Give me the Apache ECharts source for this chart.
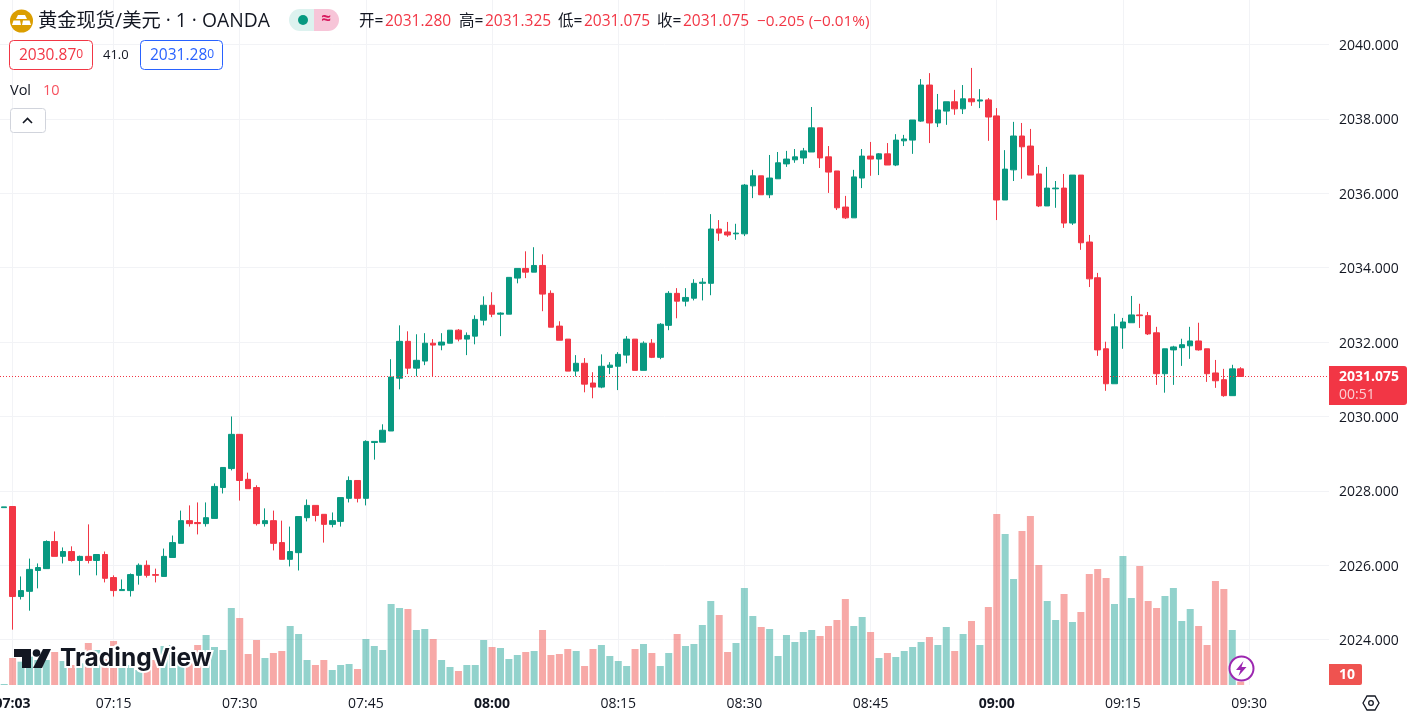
<!DOCTYPE html>
<html>
<head>
<meta charset="utf-8">
<title>黄金现货/美元</title>
<script src="https://cdn.jsdelivr.net/npm/echarts@6/dist/echarts.min.js"></script>
<style>
  html, body { margin: 0; padding: 0; background: #fff; }
  #chart { width: 1407px; height: 717px; }
</style>
</head>
<body>
<div id="chart"></div>
<script>
// one row per 10 minutes, first value is 07:02
var opens = [
  2027.55,2027.58,2025.16,2025.30,2025.86,2025.91,2026.64,2026.24,2026.37,2026.13,
  2026.24,2026.13,2026.29,2025.67,2025.32,2025.32,2025.73,2026.00,2025.75,2025.70,
  2026.21,2026.59,2027.20,2027.15,2027.12,2027.26,2028.09,2028.60,2029.52,2028.31,
  2028.09,2027.12,2027.20,2026.61,2026.16,2026.34,2027.28,2027.61,2027.37,2027.10,
  2027.18,2027.80,2028.28,2027.80,2029.30,2029.31,2029.61,2031.03,2032.02,2031.30,
  2031.49,2031.97,2031.92,2031.97,2032.32,2032.08,2032.16,2032.59,2032.99,2032.75,
  2032.75,2033.72,2033.98,2033.88,2034.06,2033.31,2032.43,2032.08,2031.22,2031.43,
  2030.90,2030.79,2031.32,2031.35,2031.65,2032.08,2031.24,2031.97,2031.59,2032.45,
  2033.31,2033.10,2033.18,2033.58,2033.58,2035.04,2034.96,2034.91,2034.91,2036.20,
  2036.47,2035.96,2036.39,2036.79,2036.90,2036.95,2037.11,2037.76,2036.98,2036.60,
  2035.63,2035.34,2036.41,2037.00,2036.92,2037.06,2036.76,2037.41,2037.43,2037.94,
  2038.91,2037.89,2038.21,2038.46,2038.27,2038.54,2038.48,2038.51,2038.08,2035.82,
  2036.63,2037.54,2037.27,2036.52,2035.66,2036.12,2036.14,2035.20,2036.49,2034.69,
  2033.73,2031.82,2030.88,2032.38,2032.52,2032.73,2032.71,2032.25,2031.15,2031.79,
  2031.85,2031.90,2032.03,2031.82,2031.17,2030.99,2030.56,2031.28
];
var closes = [
  2027.57,2025.16,2025.32,2025.89,2025.94,2026.64,2026.24,2026.37,2026.13,2026.24,
  2026.13,2026.29,2025.65,2025.32,2025.35,2025.75,2026.00,2025.73,2025.73,2026.24,
  2026.61,2027.20,2027.12,2027.12,2027.28,2028.12,2028.63,2029.52,2028.28,2028.06,
  2027.12,2027.20,2026.59,2026.16,2026.37,2027.31,2027.61,2027.34,2027.10,2027.20,
  2027.82,2028.28,2027.80,2029.33,2029.33,2029.63,2031.06,2032.02,2031.30,2031.51,
  2031.97,2031.92,2032.00,2032.32,2032.08,2032.18,2032.61,2032.99,2032.75,2032.78,
  2033.74,2033.98,2033.88,2034.06,2033.29,2032.40,2032.05,2031.22,2031.43,2030.87,
  2030.79,2031.35,2031.38,2031.67,2032.08,2031.24,2031.97,2031.59,2032.48,2033.31,
  2033.10,2033.20,2033.58,2033.61,2035.04,2034.93,2034.88,2034.93,2036.22,2036.47,
  2035.96,2036.41,2036.82,2036.92,2036.98,2037.14,2037.76,2036.95,2036.57,2035.61,
  2035.34,2036.44,2037.00,2036.92,2037.06,2036.76,2037.43,2037.46,2037.97,2038.91,
  2037.89,2038.24,2038.46,2038.27,2038.54,2038.46,2038.51,2038.05,2035.82,2036.65,
  2037.54,2037.25,2036.49,2035.66,2036.14,2036.14,2035.20,2036.49,2034.67,2033.70,
  2031.79,2030.88,2032.41,2032.54,2032.73,2032.71,2032.22,2031.15,2031.82,2031.87,
  2031.93,2032.03,2031.79,2031.15,2030.96,2030.56,2031.28,2031.075
];
var lows = [
  2027.55,2024.27,2025.08,2024.78,2025.38,2025.91,2026.24,2026.05,2026.10,2025.73,
  2026.05,2025.73,2025.54,2025.16,2025.32,2025.16,2025.48,2025.67,2025.54,2025.70,
  2026.21,2026.59,2027.04,2026.83,2027.04,2027.26,2027.93,2028.55,2027.74,2028.06,
  2027.07,2027.04,2026.40,2026.16,2025.97,2025.86,2027.18,2027.18,2026.61,2027.02,
  2027.04,2027.69,2027.69,2027.61,2028.84,2029.31,2029.61,2030.73,2031.14,2031.08,
  2031.38,2031.08,2031.78,2031.97,2032.02,2031.65,2031.94,2032.45,2032.67,2032.16,
  2032.75,2033.58,2033.72,2033.88,2032.83,2032.40,2032.05,2031.22,2031.08,2030.65,
  2030.49,2030.76,2031.14,2030.71,2031.43,2031.24,2031.24,2031.57,2031.54,2032.32,
  2032.64,2032.96,2033.12,2033.12,2033.26,2034.72,2034.83,2034.75,2034.85,2035.87,
  2035.96,2035.87,2036.39,2036.71,2036.82,2036.79,2037.11,2036.68,2036.01,2035.55,
  2035.31,2035.34,2036.14,2036.47,2036.49,2036.76,2036.73,2037.27,2037.06,2037.92,
  2037.35,2037.78,2037.84,2038.11,2038.13,2038.35,2038.29,2037.41,2035.28,2035.82,
  2036.33,2036.39,2036.49,2035.63,2035.66,2035.61,2035.07,2035.15,2034.48,2033.48,
  2031.63,2030.69,2030.88,2031.82,2032.52,2032.38,2032.19,2030.85,2030.64,2030.85,
  2031.36,2031.55,2031.77,2030.93,2030.77,2030.53,2030.56,2031.075
];
var highs = [
  2027.57,2027.58,2025.70,2026.18,2026.05,2026.67,2026.91,2026.48,2026.51,2026.26,
  2027.10,2026.29,2026.37,2025.73,2025.62,2025.78,2026.05,2026.13,2025.91,2026.45,
  2026.80,2027.47,2027.61,2027.69,2027.69,2028.20,2028.63,2030.00,2029.52,2028.49,
  2028.15,2027.53,2027.47,2027.20,2027.04,2027.31,2027.77,2027.61,2027.37,2027.42,
  2027.82,2028.39,2028.28,2029.36,2029.33,2029.79,2031.54,2032.45,2032.29,2032.21,
  2032.24,2032.08,2032.24,2032.32,2032.35,2032.26,2032.72,2033.23,2033.34,2032.80,
  2033.74,2033.98,2034.44,2034.55,2034.36,2033.39,2032.56,2032.08,2031.65,2031.57,
  2031.19,2031.67,2031.46,2031.73,2032.16,2032.08,2032.02,2032.08,2032.51,2033.37,
  2033.45,2033.45,2033.69,2033.72,2035.44,2035.28,2035.23,2035.18,2036.25,2036.63,
  2036.47,2037.03,2037.11,2037.14,2037.19,2037.22,2038.32,2037.76,2037.27,2036.60,
  2035.93,2036.63,2037.19,2037.38,2037.08,2037.35,2037.59,2037.57,2037.97,2039.07,
  2039.23,2038.67,2038.46,2038.78,2038.91,2039.37,2038.80,2038.56,2038.29,2037.16,
  2037.92,2037.89,2037.73,2036.76,2036.71,2036.33,2036.52,2036.49,2036.49,2034.88,
  2033.86,2032.01,2032.76,2032.65,2033.24,2033.03,2032.81,2032.41,2031.82,2031.90,
  2032.09,2032.41,2032.52,2031.82,2031.52,2031.28,2031.39,2031.325
];
var volumes = [
  3,81,70,85,75,75,99,72,60,65,
  126,105,78,132,55,60,45,60,75,117,
  120,75,75,120,150,114,105,231,201,93,
  135,81,96,102,177,153,75,60,75,45,
  60,63,48,138,117,105,243,231,228,165,
  168,138,75,54,42,60,60,135,114,111,
  78,90,99,102,165,90,93,108,102,57,
  108,120,87,72,57,108,123,96,57,96,
  153,117,123,180,252,210,99,126,291,207,
  174,168,87,150,129,159,165,147,177,195,
  258,177,204,159,81,96,84,102,114,129,
  144,120,174,102,153,192,120,234,513,453,
  318,462,507,360,252,195,273,189,219,333,
  348,321,243,387,261,357,252,231,267,291,
  192,228,177,120,312,288,165,10
];
var priceTicks = [2040, 2038, 2036, 2034, 2032, 2030, 2028, 2026, 2024];
var timeTicks = ['07:03','07:15','07:30','07:45','08:00','08:15','08:30','08:45','09:00','09:15','09:30'];
var boldTimes = ['07:03','08:00','09:00'];
var lastPrice = 2031.075;

// the minutes run on past the last bar to leave the empty space on the right
var categories = [];
for (var m = 7 * 60 + 2; m < 7 * 60 + 2 + 158; m++) {
  var hh = Math.floor(m / 60), mm = m % 60;
  categories.push((hh < 10 ? '0' : '') + hh + ':' + (mm < 10 ? '0' : '') + mm);
}

var UP = '#089981', DOWN = '#F23645', TEXT = '#131722', GRID = '#f2f3f6';
var FONT = '"Open Sans","Noto Sans CJK SC",sans-serif';

var candleData = opens.map(function (o, i) {
  return [o, closes[i], lows[i], highs[i]];
});
var volumeData = volumes.map(function (v, i) {
  return {
    value: v,
    itemStyle: { color: closes[i] >= opens[i] ? 'rgba(38,166,154,0.5)' : 'rgba(239,83,80,0.5)' }
  };
});

function txt(x, y, text, size, color, extra) {
  var style = { x: x, y: y, text: text, fontSize: size, fontFamily: FONT, fill: color, verticalAlign: 'middle' };
  for (var k in extra) style[k] = extra[k];
  return { type: 'text', z: 20, silent: true, style: style };
}
function box(x, y, w, h, r, fill, stroke) {
  return {
    type: 'rect', z: 19, silent: true,
    shape: { x: x, y: y, width: w, height: h, r: r },
    style: { fill: fill, stroke: stroke || null, lineWidth: 1 }
  };
}
function poly(points, fill) {
  return { type: 'polygon', z: 21, silent: true, shape: { points: points }, style: { fill: fill } };
}

var HEAD = 15.5;
var overlays = [
  // symbol icon
  { type: 'circle', z: 20, silent: true, shape: { cx: 21.5, cy: 21, r: 11.5 }, style: { fill: '#DB9E00' } },
  poly([[18,15],[25,15],[27,19],[16,19]], '#fff'),
  poly([[12,25],[13.5,20.5],[20,20.5],[21,25]], '#fff'),
  poly([[22,25],[23,20.5],[29.5,20.5],[31,25]], '#fff'),
  txt(38, 22, '黄金现货/美元 · 1 · OANDA', 19.3, TEXT),

  // market status pill
  box(289, 9, 25, 22, [11, 0, 0, 11], '#DDF2EF'),
  box(314, 9, 25, 22, [0, 11, 11, 0], '#F7C5D8'),
  { type: 'circle', z: 20, silent: true, shape: { cx: 303, cy: 20, r: 5 }, style: { fill: UP } },
  txt(326, 19, '≈', 17, '#D81B60', { align: 'center', fontWeight: 'bold' }),

  // OHLC line
  txt(359, 22, '开=', HEAD, TEXT), txt(385, 22, '2031.280', HEAD, DOWN),
  txt(459, 22, '高=', HEAD, TEXT), txt(485, 22, '2031.325', HEAD, DOWN),
  txt(558, 22, '低=', HEAD, TEXT), txt(584, 22, '2031.075', HEAD, DOWN),
  txt(657, 22, '收=', HEAD, TEXT), txt(683, 22, '2031.075', HEAD, DOWN),
  txt(757, 22, '−0.205 (−0.01%)', HEAD - 0.2, DOWN),

  // bid / ask
  box(9.5, 40.5, 83, 29, 4, '#fff', DOWN),
  txt(19, 56, '{a|2030.87}{b|0}', HEAD, DOWN, {
    rich: { a: { fontFamily: FONT, fontSize: HEAD, color: DOWN }, b: { fontFamily: FONT, fontSize: 12, color: DOWN, verticalAlign: 'top' } }
  }),
  txt(103, 55, '41.0', 13, TEXT),
  box(140.5, 40.5, 82, 29, 4, '#fff', '#2962FF'),
  txt(150, 56, '{a|2031.28}{b|0}', HEAD, '#2962FF', {
    rich: { a: { fontFamily: FONT, fontSize: HEAD, color: '#2962FF' }, b: { fontFamily: FONT, fontSize: 12, color: '#2962FF', verticalAlign: 'top' } }
  }),

  txt(10, 91, 'Vol', 14.5, TEXT),
  txt(43, 91, '10', 14.5, '#F7525F'),

  box(10.5, 108.5, 35, 24, 3, '#fff', '#D1D4DC'),
  {
    type: 'polyline', z: 21, silent: true,
    shape: { points: [[23, 123], [27.5, 118.5], [32, 123]] },
    style: { stroke: TEXT, lineWidth: 1.6, fill: null }
  },

  // last price tag
  box(1329, 366, 78, 39, [0, 3, 3, 0], DOWN),
  txt(1339, 377, '2031.075', 14, '#fff', { fontWeight: 'bold' }),
  txt(1339, 395, '00:51', 14, '#FBD0D4'),

  // volume tag
  box(1329, 664, 33, 21, [0, 2, 2, 0], '#EF5350'),
  txt(1347, 675, '10', 14, '#fff', { align: 'center', fontWeight: 'bold' }),

  // settings hexagon
  {
    type: 'polygon', z: 21, silent: true,
    shape: { points: [[1363, 703], [1367, 696], [1375, 696], [1379, 703], [1375, 710], [1367, 710]] },
    style: { fill: null, stroke: TEXT, lineWidth: 1.3 }
  },
  { type: 'circle', z: 21, silent: true, shape: { cx: 1371, cy: 703, r: 2.3 }, style: { fill: null, stroke: TEXT, lineWidth: 1.3 } },

  // lightning badge
  { type: 'circle', z: 20, silent: true, shape: { cx: 1241.5, cy: 668.5, r: 12 }, style: { fill: '#fff', stroke: '#9C27B0', lineWidth: 2 } },
  poly([[1243.5,661],[1236,670],[1240.5,670],[1238.5,676],[1246.5,667],[1241.5,667]], '#9C27B0'),

  // watermark logo
  poly([[14,649],[31,649],[31,668],[22,668],[22,657],[14,657]], '#131722'),
  { type: 'circle', z: 21, silent: true, shape: { cx: 36.5, cy: 653, r: 3.8 }, style: { fill: '#131722' } },
  poly([[43,649],[51,649],[42,668],[33,668]], '#131722'),
  txt(60, 659, 'TradingView', 24.5, '#131722', {
    fontWeight: 'bold', fontFamily: 'Inter,"Open Sans",sans-serif', stroke: '#fff', lineWidth: 4
  })
];

var chart = echarts.init(document.getElementById('chart'));
chart.setOption({
  animation: false,
  backgroundColor: '#fff',
  graphic: overlays,
  grid: [
    { left: 0, right: 78, top: 0, bottom: 32, outerBoundsMode: 'none' },
    { left: 0, right: 78, top: 500, bottom: 32, outerBoundsMode: 'none' }
  ],
  xAxis: [
    {
      type: 'category', gridIndex: 0, data: categories,
      axisLine: { show: false },
      axisTick: { show: false },
      splitLine: {
        show: true, alignWithLabel: true,
        interval: function (i, v) { return timeTicks.indexOf(v) >= 0; },
        lineStyle: { color: GRID, width: 1 }
      },
      axisLabel: {
        interval: function (i, v) { return timeTicks.indexOf(v) >= 0; },
        margin: 12,
        fontFamily: FONT, fontSize: 14, color: TEXT,
        formatter: function (v) { return boldTimes.indexOf(v) >= 0 ? '{b|' + v + '}' : v; },
        rich: { b: { fontFamily: FONT, fontSize: 14, fontWeight: 'bold', color: TEXT } }
      }
    },
    { type: 'category', gridIndex: 1, data: categories, show: false }
  ],
  yAxis: [
    {
      type: 'value', gridIndex: 0, position: 'right', scale: true,
      // 37.2px per unit, 2040 sits 44.5px below the top
      min: 2022.782, max: 2041.196,
      axisLine: { show: false },
      axisTick: { show: false, customValues: priceTicks },
      splitLine: { show: true, lineStyle: { color: GRID, width: 1 } },
      axisLabel: {
        customValues: priceTicks,
        margin: 10,
        formatter: function (v) { return '{p|' + v.toFixed(3) + '}'; },
        rich: { p: { fontFamily: FONT, fontSize: 14, color: TEXT, padding: [3, 0, 0, 0] } }
      }
    },
    { type: 'value', gridIndex: 1, min: 0, max: 555, show: false, splitLine: { show: false } }
  ],
  series: [
    {
      name: 'Vol', type: 'bar', xAxisIndex: 1, yAxisIndex: 1, z: 2,
      barWidth: 7, data: volumeData
    },
    {
      name: '黄金现货/美元', type: 'candlestick', xAxisIndex: 0, yAxisIndex: 0, z: 3,
      barWidth: 6,
      data: candleData,
      itemStyle: {
        color: UP, color0: DOWN, borderColor: UP, borderColor0: DOWN, borderWidth: 1
      },
      markLine: {
        silent: true, symbol: 'none',
        label: { show: false },
        lineStyle: { color: DOWN, type: [1, 2], width: 1 },
        data: [{ yAxis: lastPrice }]
      }
    }
  ]
});
</script>
</body>
</html>
